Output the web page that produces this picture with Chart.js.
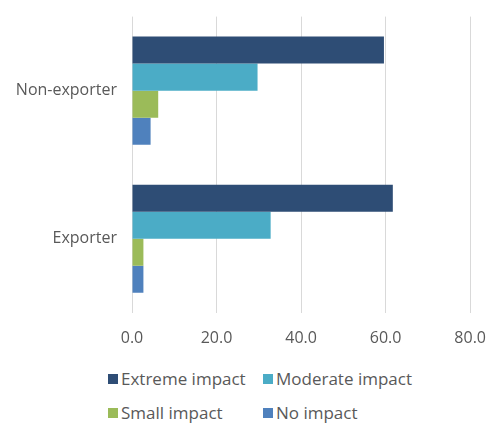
<!DOCTYPE html>
<html>
<head>
<meta charset="utf-8">
<script src="https://cdn.jsdelivr.net/npm/chart.js@4"></script>
<style>
  body { margin: 0; background: #fff; font-family: "Open Sans", sans-serif; }
  #wrap { position: relative; width: 502px; height: 434px; }
  #chart-box { position: absolute; left: 0; top: 0; width: 502px; height: 367px; }
  #legend { position: absolute; left: 108px; top: 367px; display: grid;
            grid-template-columns: 155px 170px; row-gap: 11px; color: #595959; font-size: 17px; }
  .item { display: flex; align-items: center; height: 23px; white-space: nowrap; }
  .swatch { width: 10px; height: 10px; margin-right: 3px; }
</style>
</head>
<body>
<div id="wrap">
  <div id="chart-box"><canvas id="impact-chart"></canvas></div>
  <div id="legend"></div>
</div>
<script>
// --- Data ---
const categories = ["Non-exporter", "Exporter"];
const seriesNames = ["Extreme impact", "Moderate impact", "Small impact", "No impact"];
const extremeImpact = [59.6, 61.7];
const moderateImpact = [29.7, 32.8];
const smallImpact = [6.2, 2.7];
const noImpact = [4.4, 2.7];
const xTicks = [0, 20, 40, 60, 80];

const colors = ["#2E4D75", "#4BACC6", "#9BBB59", "#4F81BD"];
const seriesValues = [extremeImpact, moderateImpact, smallImpact, noImpact];

const ctx = document.getElementById("impact-chart").getContext("2d");

const impactChart = new Chart(ctx, {
    type: "bar",
    data: {
        labels: categories,
        datasets: seriesNames.map((name, i) => ({
            label: name,
            data: seriesValues[i],
            backgroundColor: colors[i],
            categoryPercentage: 0.73,
            barPercentage: 1.0
        }))
    },
    options: {
        indexAxis: "y",
        responsive: true,
        maintainAspectRatio: false,
        animation: false,
        layout: { padding: { top: 14, right: 24, bottom: 3, left: 0 } },
        plugins: {
            legend: { display: false },
            tooltip: { enabled: false }
        },
        scales: {
            x: {
                min: 0,
                max: 80,
                afterBuildTicks: axis => { axis.ticks = xTicks.map(v => ({ value: v })); },
                grid: { color: "#D9D9D9", lineWidth: 1, drawTicks: false },
                border: { display: false },
                ticks: {
                    padding: 16,
                    color: "#595959",
                    font: { family: "Open Sans", size: 16 },
                    callback: value => Number(value).toFixed(1)
                }
            },
            y: {
                grid: { display: false },
                border: { display: false },
                afterFit: scale => { scale.width = 132; },
                ticks: {
                    padding: 7,
                    color: "#595959",
                    font: { family: "Open Sans", size: 16 }
                }
            }
        }
    }
});

// --- HTML legend (laid out in two fixed columns) ---
const legendEl = document.getElementById("legend");
impactChart.data.datasets.forEach(ds => {
    const item = document.createElement("div");
    item.className = "item";
    const sw = document.createElement("span");
    sw.className = "swatch";
    sw.style.background = ds.backgroundColor;
    const txt = document.createElement("span");
    txt.textContent = ds.label;
    item.appendChild(sw);
    item.appendChild(txt);
    legendEl.appendChild(item);
});
</script>
</body>
</html>
